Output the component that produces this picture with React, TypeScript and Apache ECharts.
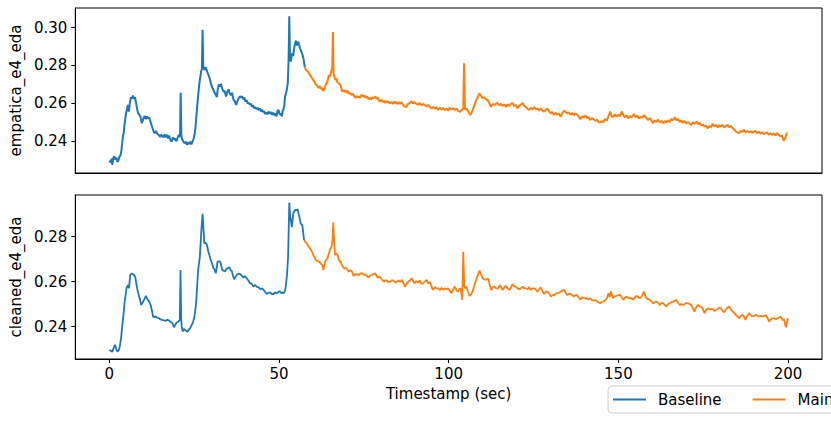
import React, { useEffect, useRef } from "react";
import * as echarts from "echarts";

const xTicks = [0, 50, 100, 150, 200];
const topYTicks = [0.24, 0.26, 0.28, 0.3];
const bottomYTicks = [0.24, 0.26, 0.28];
const seriesNames = ["Baseline", "Main"];
const topLabel = "empatica_e4_eda";
const bottomLabel = "cleaned_e4_eda";
const xLabel = "Timestamp (sec)";

// raw signal, baseline phase [t, value]
const topBaseline = [
  [0,0.2294],[0.4,0.2285],[0.7,0.2305],[0.9,0.2272],[1.2,0.2310],[1.5,0.2318],[1.8,0.2300],[2.1,0.2312],[2.4,0.2288],[2.7,0.2296],[3.0,0.2315],[3.3,0.2322],[3.6,0.2350],[4.0,0.2420],[4.3,0.2445],[4.6,0.2500],[4.9,0.2540],[5.2,0.2565],[5.5,0.2590],[5.8,0.2555],[6.1,0.2605],[6.4,0.2631],[6.7,0.2625],[7.0,0.2640],[7.3,0.2622],[7.6,0.2630],[7.9,0.2600],[8.2,0.2570],[8.5,0.2546],[8.8,0.2540],[9.2,0.2528],[9.6,0.2493],[10.0,0.2515],[10.4,0.2532],[10.8,0.2515],[11.1,0.2530],[11.4,0.2519],[11.8,0.2522],[12.3,0.2493],[12.7,0.2470],[13.1,0.2448],[13.4,0.2440],[13.8,0.2452],[14.2,0.2435],[14.6,0.2432],[15.0,0.2420],[15.3,0.2432],[15.6,0.2426],[16.0,0.2418],[16.3,0.2434],[16.6,0.2420],[17.0,0.2432],[17.3,0.2412],[17.6,0.2428],[18.0,0.2405],[18.4,0.2395],[18.8,0.2418],[19.1,0.2405],[19.4,0.2413],[19.7,0.2398],[20.0,0.2405],[20.3,0.2425],[20.6,0.2430],[20.85,0.2420],[21.05,0.2655],[21.25,0.2425],[21.5,0.2408],[21.8,0.2395],[22.2,0.2387],[22.6,0.2395],[22.9,0.2378],[23.2,0.2392],[23.6,0.2382],[23.9,0.2395],[24.2,0.2380],[24.6,0.2400],[24.9,0.2413],[25.2,0.2440],[25.5,0.2490],[25.9,0.2580],[26.2,0.2640],[26.5,0.2696],[26.8,0.2735],[27.1,0.2770],[27.3,0.2780],[27.5,0.2988],[27.7,0.2795],[28.0,0.2775],[28.4,0.2790],[28.8,0.2770],[29.2,0.2750],[29.6,0.2730],[30.0,0.2700],[30.3,0.2685],[30.7,0.2668],[31.0,0.2655],[31.4,0.2645],[31.7,0.2631],[32.0,0.2675],[32.3,0.2698],[32.6,0.2688],[32.9,0.2702],[33.3,0.2675],[33.7,0.2660],[34.0,0.2665],[34.4,0.2635],[34.8,0.2660],[35.2,0.2673],[35.5,0.2650],[35.9,0.2642],[36.2,0.2655],[36.6,0.2617],[37.0,0.2610],[37.4,0.2590],[37.8,0.2612],[38.1,0.2625],[38.5,0.2635],[38.8,0.2628],[39.1,0.2637],[39.5,0.2620],[39.8,0.2630],[40.1,0.2608],[40.5,0.2615],[40.8,0.2598],[41.1,0.2600],[41.5,0.2592],[41.8,0.2595],[42.0,0.2580],[42.4,0.2588],[42.7,0.2572],[43.0,0.2578],[43.4,0.2568],[43.7,0.2575],[44.0,0.2563],[44.4,0.2570],[44.7,0.2555],[45.0,0.2565],[45.3,0.2552],[45.6,0.2558],[45.9,0.2542],[46.3,0.2550],[46.6,0.2540],[46.9,0.2555],[47.2,0.2545],[47.6,0.2552],[47.9,0.2538],[48.3,0.2550],[48.6,0.2535],[48.9,0.2545],[49.3,0.2530],[49.6,0.2560],[49.9,0.2563],[50.2,0.2540],[50.6,0.2542],[50.9,0.2530],[51.1,0.2560],[51.3,0.2563],[51.6,0.2590],[51.8,0.2634],[52.2,0.2660],[52.6,0.2705],[52.85,0.2830],[53.05,0.3060],[53.25,0.2840],[53.5,0.2820],[53.9,0.2864],[54.2,0.2850],[54.5,0.2891],[54.8,0.2920],[55.0,0.2931],[55.3,0.2905],[55.7,0.2925],[56.0,0.2905],[56.2,0.2890],[56.5,0.2878],[56.8,0.2864],[57.1,0.2845],[57.3,0.2829],[57.6,0.2790]
];

// raw signal, main phase [t, value]
const topMain = [
  [57.6,0.2790],[58.0,0.2775],[58.5,0.2767],[58.9,0.2755],[59.2,0.2748],[59.5,0.2740],[59.9,0.2728],[60.2,0.2720],[60.4,0.2714],[60.8,0.2700],[61.1,0.2695],[61.4,0.2687],[61.8,0.2680],[62.1,0.2690],[62.4,0.2676],[62.8,0.2678],[63.0,0.2665],[63.3,0.2670],[63.6,0.2690],[64.0,0.2705],[64.3,0.2714],[64.7,0.2749],[65.0,0.2740],[65.4,0.2767],[65.7,0.2785],[65.9,0.2976],[66.1,0.2760],[66.4,0.2733],[66.7,0.2722],[67.0,0.2730],[67.2,0.2710],[67.6,0.2705],[67.9,0.2700],[68.1,0.2696],[68.4,0.2678],[68.6,0.2660],[69.0,0.2670],[69.3,0.2658],[69.6,0.2668],[70.0,0.2655],[70.3,0.2665],[70.6,0.2650],[71.0,0.2652],[71.5,0.2643],[71.8,0.2650],[72.0,0.2643],[72.5,0.2626],[72.8,0.2638],[73.2,0.2630],[73.5,0.2635],[73.9,0.2628],[74.2,0.2640],[74.5,0.2643],[74.9,0.2632],[75.2,0.2640],[75.6,0.2628],[76.0,0.2635],[76.4,0.2620],[76.8,0.2628],[77.1,0.2618],[77.5,0.2630],[77.9,0.2625],[78.4,0.2635],[78.8,0.2622],[79.1,0.2628],[79.5,0.2612],[79.8,0.2608],[80.3,0.2617],[80.7,0.2605],[81.0,0.2612],[81.3,0.2600],[81.7,0.2610],[82.0,0.2602],[82.3,0.2608],[82.7,0.2598],[83.2,0.2605],[83.6,0.2595],[84.0,0.2608],[84.2,0.2600],[84.6,0.2605],[85.0,0.2594],[85.2,0.2604],[85.7,0.2596],[86.1,0.2605],[86.5,0.2592],[87.1,0.2580],[87.6,0.2580],[88.0,0.2595],[88.5,0.2600],[89.1,0.2610],[89.5,0.2598],[90.0,0.2605],[90.5,0.2595],[91.0,0.2590],[91.5,0.2600],[92.0,0.2588],[92.5,0.2595],[93.0,0.2590],[93.5,0.2582],[94.0,0.2590],[94.5,0.2578],[95.0,0.2572],[95.4,0.2580],[95.9,0.2570],[96.4,0.2578],[96.9,0.2563],[97.4,0.2575],[97.9,0.2566],[98.4,0.2574],[98.9,0.2563],[99.4,0.2570],[99.9,0.2560],[100.3,0.2576],[100.8,0.2565],[101.3,0.2572],[101.8,0.2563],[102.3,0.2570],[102.8,0.2558],[103.3,0.2554],[103.8,0.2562],[104.3,0.2570],[104.55,0.2811],[104.8,0.2565],[105.2,0.2572],[105.6,0.2560],[106.0,0.2548],[106.4,0.2537],[106.8,0.2550],[107.1,0.2563],[107.5,0.2585],[108.1,0.2616],[108.6,0.2630],[109.1,0.2652],[109.5,0.2640],[110.0,0.2626],[110.5,0.2630],[111.0,0.2620],[111.5,0.2616],[112.0,0.2598],[112.5,0.2580],[113.0,0.2595],[113.5,0.2590],[114.0,0.2598],[114.4,0.2600],[114.9,0.2588],[115.4,0.2596],[115.9,0.2585],[116.4,0.2592],[116.9,0.2580],[117.4,0.2592],[117.9,0.2585],[118.3,0.2595],[118.8,0.2600],[119.3,0.2585],[119.8,0.2590],[120.3,0.2572],[120.8,0.2585],[121.3,0.2592],[121.8,0.2600],[122.3,0.2585],[122.8,0.2578],[123.2,0.2570],[123.7,0.2563],[124.2,0.2575],[124.7,0.2566],[125.2,0.2578],[125.7,0.2568],[126.2,0.2570],[126.7,0.2560],[127.1,0.2572],[127.6,0.2562],[128.1,0.2554],[128.6,0.2565],[129.1,0.2570],[129.6,0.2555],[130.1,0.2545],[130.5,0.2552],[131.0,0.2537],[131.5,0.2548],[132.0,0.2538],[132.5,0.2545],[133.0,0.2528],[133.5,0.2546],[134.0,0.2560],[134.4,0.2554],[134.9,0.2545],[135.4,0.2550],[135.9,0.2537],[136.4,0.2548],[136.9,0.2535],[137.3,0.2545],[137.8,0.2540],[138.3,0.2530],[138.8,0.2514],[139.3,0.2530],[139.8,0.2522],[140.3,0.2535],[140.8,0.2520],[141.2,0.2525],[141.7,0.2510],[142.2,0.2520],[142.7,0.2515],[143.2,0.2505],[143.7,0.2512],[144.1,0.2500],[144.6,0.2496],[145.1,0.2505],[145.6,0.2498],[146.1,0.2515],[146.6,0.2508],[147.1,0.2530],[147.6,0.2555],[148.0,0.2530],[148.5,0.2526],[149.0,0.2540],[149.5,0.2528],[150.0,0.2538],[150.5,0.2530],[151.0,0.2555],[151.5,0.2535],[151.9,0.2524],[152.4,0.2535],[152.9,0.2520],[153.4,0.2530],[153.9,0.2525],[154.4,0.2535],[154.6,0.2542],[155.1,0.2525],[155.6,0.2532],[156.1,0.2518],[156.6,0.2528],[157.1,0.2522],[157.6,0.2537],[158.0,0.2525],[158.5,0.2515],[158.8,0.2510],[159.3,0.2520],[159.8,0.2505],[160.2,0.2493],[160.7,0.2508],[161.2,0.2500],[161.7,0.2512],[162.2,0.2498],[162.7,0.2505],[163.2,0.2493],[163.7,0.2505],[164.1,0.2498],[164.6,0.2508],[165.1,0.2500],[165.6,0.2515],[166.1,0.2510],[166.6,0.2525],[167.1,0.2508],[167.6,0.2515],[168.1,0.2500],[168.5,0.2508],[169.0,0.2495],[169.5,0.2505],[170.0,0.2492],[170.5,0.2500],[171.0,0.2490],[171.5,0.2484],[172.0,0.2498],[172.5,0.2490],[173.0,0.2502],[173.4,0.2488],[173.9,0.2495],[174.4,0.2482],[174.9,0.2485],[175.4,0.2475],[175.9,0.2480],[176.3,0.2466],[176.8,0.2478],[177.3,0.2472],[177.8,0.2490],[178.3,0.2476],[178.8,0.2485],[179.3,0.2470],[179.7,0.2482],[180.2,0.2475],[180.7,0.2484],[181.2,0.2470],[181.7,0.2478],[182.2,0.2484],[182.7,0.2472],[183.2,0.2478],[183.7,0.2466],[184.2,0.2458],[184.6,0.2450],[185.1,0.2445],[185.6,0.2440],[186.1,0.2452],[186.6,0.2448],[187.0,0.2458],[187.5,0.2445],[188.0,0.2452],[188.5,0.2445],[189.0,0.2450],[189.5,0.2442],[190.0,0.2448],[190.4,0.2452],[190.9,0.2440],[191.4,0.2448],[191.9,0.2438],[192.4,0.2445],[192.9,0.2435],[193.3,0.2440],[193.8,0.2445],[194.3,0.2432],[194.8,0.2440],[195.3,0.2431],[195.8,0.2438],[196.3,0.2428],[196.8,0.2440],[197.3,0.2430],[197.8,0.2422],[198.2,0.2428],[198.7,0.2400],[199.2,0.2415],[199.7,0.2443]
];

// cleaned signal, baseline phase [t, value]
const bottomBaseline = [
  [0,0.2296],[0.5,0.2292],[0.9,0.2289],[1.3,0.2305],[1.7,0.2319],[2.1,0.2300],[2.4,0.2289],[2.8,0.2295],[3.1,0.2311],[3.5,0.2350],[3.8,0.2400],[4.2,0.2455],[4.5,0.2504],[5.1,0.2571],[5.5,0.2585],[5.8,0.2571],[6.2,0.2630],[6.6,0.2636],[7.0,0.2633],[7.4,0.2628],[7.7,0.2618],[8.2,0.2571],[8.7,0.2541],[9.0,0.2525],[9.4,0.2496],[9.8,0.2505],[10.2,0.2518],[10.8,0.2536],[11.4,0.2518],[11.8,0.2510],[12.2,0.2496],[12.6,0.2470],[12.9,0.2444],[13.3,0.2442],[13.6,0.2446],[14.1,0.2440],[14.6,0.2437],[15.1,0.2432],[15.6,0.2430],[16.1,0.2428],[16.6,0.2426],[17.1,0.2430],[17.6,0.2428],[18.1,0.2420],[18.5,0.2418],[18.8,0.2408],[19.1,0.2397],[19.5,0.2410],[19.9,0.2418],[20.3,0.2422],[20.6,0.2426],[20.8,0.2430],[21.0,0.2652],[21.2,0.2430],[21.4,0.2395],[21.7,0.2378],[22.0,0.2390],[22.4,0.2385],[22.8,0.2380],[23.1,0.2378],[23.4,0.2388],[23.7,0.2390],[24.3,0.2408],[24.7,0.2420],[25.0,0.2437],[25.3,0.2465],[25.6,0.2504],[25.9,0.2580],[26.2,0.2652],[26.7,0.2711],[27.2,0.2844],[27.5,0.2901],[27.75,0.2840],[28.0,0.2771],[28.4,0.2772],[28.7,0.2767],[29.2,0.2733],[29.5,0.2718],[29.9,0.2696],[30.3,0.2680],[30.7,0.2659],[31.0,0.2655],[31.4,0.2637],[31.7,0.2665],[31.9,0.2689],[32.3,0.2690],[32.7,0.2689],[33.0,0.2670],[33.3,0.2652],[33.7,0.2648],[34.1,0.2645],[34.5,0.2655],[34.8,0.2659],[35.4,0.2664],[35.8,0.2650],[36.1,0.2648],[36.5,0.2625],[36.8,0.2611],[37.2,0.2620],[37.6,0.2630],[38.1,0.2635],[38.6,0.2633],[39.1,0.2625],[39.6,0.2618],[40.0,0.2625],[40.5,0.2615],[41.0,0.2605],[41.5,0.2593],[42.0,0.2590],[42.5,0.2578],[43.0,0.2585],[43.5,0.2576],[44.0,0.2575],[44.5,0.2566],[45.0,0.2570],[45.4,0.2565],[45.9,0.2555],[46.4,0.2545],[46.9,0.2550],[47.4,0.2552],[47.9,0.2545],[48.4,0.2545],[48.9,0.2552],[49.4,0.2548],[49.9,0.2555],[50.3,0.2556],[50.7,0.2548],[51.1,0.2552],[51.5,0.2548],[51.9,0.2567],[52.2,0.2605],[52.4,0.2637],[52.7,0.2711],[52.9,0.2850],[53.05,0.2951],[53.3,0.2890],[53.5,0.2874],[53.8,0.2842],[54.2,0.2901],[54.5,0.2912],[54.8,0.2919],[55.2,0.2918],[55.5,0.2922],[56.0,0.2889],[56.4,0.2859],[56.9,0.2850],[57.4,0.2785]
];

// cleaned signal, main phase [t, value]
const bottomMain = [
  [57.4,0.2785],[57.9,0.2774],[58.3,0.2768],[58.7,0.2756],[59.0,0.2750],[59.4,0.2741],[59.7,0.2735],[60.1,0.2719],[60.5,0.2708],[60.9,0.2696],[61.4,0.2690],[61.9,0.2689],[62.3,0.2680],[62.7,0.2674],[63.1,0.2652],[63.6,0.2689],[64.3,0.2704],[64.7,0.2725],[65.0,0.2741],[65.5,0.2755],[65.8,0.2790],[66.0,0.2864],[66.25,0.2780],[66.5,0.2719],[66.9,0.2726],[67.2,0.2722],[67.5,0.2705],[67.9,0.2689],[68.2,0.2690],[68.5,0.2674],[68.8,0.2668],[69.1,0.2659],[69.6,0.2661],[70.1,0.2655],[70.6,0.2644],[71.0,0.2650],[71.4,0.2648],[71.7,0.2638],[72.0,0.2625],[72.3,0.2632],[72.7,0.2630],[73.1,0.2634],[73.5,0.2628],[74.0,0.2636],[74.5,0.2637],[75.0,0.2632],[75.5,0.2630],[76.0,0.2625],[76.4,0.2619],[76.9,0.2626],[77.4,0.2630],[77.9,0.2633],[78.4,0.2637],[78.8,0.2625],[79.1,0.2617],[79.5,0.2622],[79.9,0.2619],[80.4,0.2608],[80.9,0.2600],[81.3,0.2606],[81.8,0.2604],[82.3,0.2598],[82.8,0.2600],[83.3,0.2606],[83.8,0.2604],[84.3,0.2595],[84.8,0.2600],[85.3,0.2605],[85.8,0.2598],[86.2,0.2608],[86.7,0.2592],[87.1,0.2578],[87.6,0.2590],[88.1,0.2600],[88.6,0.2605],[89.1,0.2615],[89.6,0.2600],[90.0,0.2593],[90.5,0.2602],[91.0,0.2596],[91.5,0.2605],[92.0,0.2590],[92.5,0.2593],[93.0,0.2600],[93.5,0.2608],[94.0,0.2592],[94.5,0.2597],[95.0,0.2575],[95.4,0.2563],[95.9,0.2575],[96.4,0.2570],[96.9,0.2570],[97.4,0.2562],[97.9,0.2572],[98.4,0.2563],[98.9,0.2570],[99.4,0.2566],[99.9,0.2570],[100.4,0.2558],[100.8,0.2548],[101.3,0.2565],[101.8,0.2578],[102.3,0.2562],[102.8,0.2555],[103.2,0.2568],[103.5,0.2570],[103.8,0.2545],[104.0,0.2519],[104.3,0.2733],[104.6,0.2580],[104.9,0.2570],[105.2,0.2578],[105.7,0.2555],[106.2,0.2536],[106.7,0.2545],[107.2,0.2563],[107.7,0.2590],[108.1,0.2608],[108.6,0.2630],[109.1,0.2649],[109.6,0.2630],[110.1,0.2615],[110.5,0.2610],[111.0,0.2608],[111.4,0.2613],[111.7,0.2610],[112.1,0.2585],[112.5,0.2563],[113.0,0.2575],[113.5,0.2578],[114.0,0.2570],[114.5,0.2570],[115.2,0.2585],[115.6,0.2570],[115.9,0.2563],[116.4,0.2575],[116.9,0.2580],[117.4,0.2570],[117.9,0.2563],[118.4,0.2575],[118.8,0.2590],[119.3,0.2578],[119.8,0.2578],[120.3,0.2570],[120.8,0.2566],[121.3,0.2570],[121.8,0.2578],[122.3,0.2570],[122.8,0.2570],[123.3,0.2566],[123.7,0.2575],[124.2,0.2563],[124.7,0.2570],[125.2,0.2570],[125.7,0.2565],[126.2,0.2555],[126.7,0.2566],[127.1,0.2575],[127.6,0.2560],[128.1,0.2545],[128.6,0.2555],[129.1,0.2555],[129.6,0.2548],[130.1,0.2533],[130.6,0.2540],[131.1,0.2540],[131.6,0.2548],[132.5,0.2550],[133.0,0.2555],[133.5,0.2560],[134.0,0.2563],[134.5,0.2548],[134.9,0.2540],[135.4,0.2545],[135.9,0.2545],[136.4,0.2540],[136.9,0.2533],[137.3,0.2540],[137.8,0.2540],[138.3,0.2530],[138.8,0.2519],[139.3,0.2530],[139.8,0.2528],[140.3,0.2525],[140.8,0.2526],[141.2,0.2520],[141.7,0.2525],[142.2,0.2519],[142.7,0.2515],[143.2,0.2518],[143.7,0.2511],[144.1,0.2508],[144.6,0.2504],[145.1,0.2510],[145.6,0.2511],[146.1,0.2518],[146.6,0.2526],[147.1,0.2548],[147.4,0.2530],[147.8,0.2556],[148.1,0.2540],[148.5,0.2526],[149.0,0.2535],[149.5,0.2537],[150.0,0.2540],[150.5,0.2541],[151.0,0.2530],[151.5,0.2519],[152.0,0.2530],[152.5,0.2533],[153.0,0.2526],[153.5,0.2528],[154.0,0.2525],[154.4,0.2519],[154.9,0.2530],[155.4,0.2537],[155.9,0.2530],[156.4,0.2526],[156.9,0.2535],[157.3,0.2548],[157.6,0.2556],[158.0,0.2535],[158.3,0.2526],[158.8,0.2522],[159.3,0.2519],[159.8,0.2510],[160.3,0.2504],[160.8,0.2510],[161.3,0.2511],[161.7,0.2505],[162.2,0.2496],[162.7,0.2504],[163.2,0.2504],[163.7,0.2496],[164.2,0.2489],[164.6,0.2500],[165.1,0.2504],[165.6,0.2508],[166.1,0.2511],[166.6,0.2515],[167.1,0.2519],[167.6,0.2505],[168.1,0.2496],[168.6,0.2500],[169.1,0.2496],[169.5,0.2500],[170.0,0.2504],[170.5,0.2504],[171.0,0.2500],[171.5,0.2496],[172.0,0.2480],[172.4,0.2467],[172.9,0.2485],[173.4,0.2496],[173.9,0.2490],[174.4,0.2489],[174.9,0.2478],[175.4,0.2460],[175.9,0.2475],[176.4,0.2481],[176.9,0.2478],[177.3,0.2478],[177.8,0.2478],[178.3,0.2470],[178.8,0.2474],[179.3,0.2478],[179.7,0.2485],[180.2,0.2481],[180.7,0.2470],[181.2,0.2463],[181.7,0.2478],[182.2,0.2485],[182.7,0.2489],[183.2,0.2475],[183.7,0.2467],[184.2,0.2460],[184.6,0.2452],[185.1,0.2445],[185.6,0.2437],[186.1,0.2448],[186.6,0.2452],[187.0,0.2445],[187.5,0.2430],[188.0,0.2448],[188.5,0.2460],[189.0,0.2450],[189.5,0.2445],[190.0,0.2448],[190.5,0.2452],[191.0,0.2448],[191.5,0.2444],[192.0,0.2448],[192.4,0.2445],[192.9,0.2446],[193.4,0.2452],[193.9,0.2440],[194.4,0.2422],[194.9,0.2432],[195.4,0.2437],[195.9,0.2437],[196.4,0.2433],[196.8,0.2437],[197.3,0.2440],[197.8,0.2444],[198.3,0.2430],[198.8,0.2432],[199.1,0.2412],[199.4,0.2397],[199.7,0.2420],[200.0,0.2437]
];

const FONT = "DejaVu Sans";
const BLUE = "#1f77b4";
const ORANGE = "#ff7f0e";

export default function App() {
  const ref = useRef<HTMLDivElement>(null);
  useEffect(() => {
    if (!ref.current) return;
    const chart = echarts.init(ref.current, null, { renderer: "svg" });
    const axisLine = { show: true, onZero: false, lineStyle: { color: "#000", width: 1 } };
    const tick = { show: true, inside: false, length: 4, lineStyle: { color: "#000", width: 1 } };
    const label = { color: "#000", fontSize: 15, fontFamily: FONT };
    const yAxisBase = (idx: number, min: number, max: number, ticks: number[], name: string) => ({
      type: "value",
      gridIndex: idx,
      min,
      max,
      name,
      nameLocation: "middle",
      nameRotate: 90,
      nameGap: 48,
      nameTextStyle: { color: "#000", fontSize: 15, fontFamily: FONT },
      axisLine,
      axisTick: { ...tick, customValues: ticks },
      axisLabel: { ...label, margin: 8, customValues: ticks, formatter: (v: number) => v.toFixed(2) },
      splitLine: { show: false },
    });
    const line = (name: string, color: string, data: number[][], idx: number, width: number) => ({
      type: "line",
      name,
      data,
      xAxisIndex: idx,
      yAxisIndex: idx,
      showSymbol: false,
      symbol: "none",
      lineStyle: { color, width },
      itemStyle: { color },
      z: name === seriesNames[0] ? 3 : 2,
    });
    chart.setOption({
      animation: false,
      backgroundColor: "#fff",
      grid: [
        { left: 71, top: 8, width: 751, height: 165, show: true, borderColor: "#000", borderWidth: 1, backgroundColor: "transparent" },
        { left: 71, top: 195, width: 751, height: 164, show: true, borderColor: "#000", borderWidth: 1, backgroundColor: "transparent" },
      ],
      xAxis: [
        {
          type: "value", gridIndex: 0, min: -10, max: 210,
          axisLine, axisTick: { show: false }, axisLabel: { show: false }, splitLine: { show: false },
        },
        {
          type: "value", gridIndex: 1, min: -10, max: 210,
          name: xLabel, nameLocation: "middle", nameGap: 27,
          nameTextStyle: { color: "#000", fontSize: 15, fontFamily: FONT },
          axisLine,
          axisTick: { ...tick, customValues: xTicks },
          axisLabel: { ...label, margin: 7, customValues: xTicks },
          splitLine: { show: false },
        },
      ],
      yAxis: [
        yAxisBase(0, 0.2229, 0.3104, topYTicks, topLabel),
        yAxisBase(1, 0.2256, 0.2985, bottomYTicks, bottomLabel),
      ],
      legend: {
        data: seriesNames,
        icon: "rect",
        left: 608,
        top: 386,
        width: 400,
        orient: "horizontal",
        itemWidth: 33,
        itemHeight: 2,
        itemGap: 31,
        padding: [5, 6, 5, 5],
        borderColor: "#cccccc",
        borderWidth: 1,
        borderRadius: 4,
        backgroundColor: "#fff",
        textStyle: { color: "#000", fontSize: 15, fontFamily: FONT, padding: [0, 0, 0, 7], lineHeight: 17 },
      },
      series: [
        line(seriesNames[0], BLUE, topBaseline, 0, 2),
        line(seriesNames[1], ORANGE, topMain, 0, 2),
        line(seriesNames[0], BLUE, bottomBaseline, 1, 1.8),
        line(seriesNames[1], ORANGE, bottomMain, 1, 1.8),
      ],
    });
    return () => chart.dispose();
  }, []);
  return (
    <div
      ref={ref}
      style={{ position: "fixed", left: 0, top: 0, width: 831, height: 421, background: "#fff" }}
    />
  );
}
